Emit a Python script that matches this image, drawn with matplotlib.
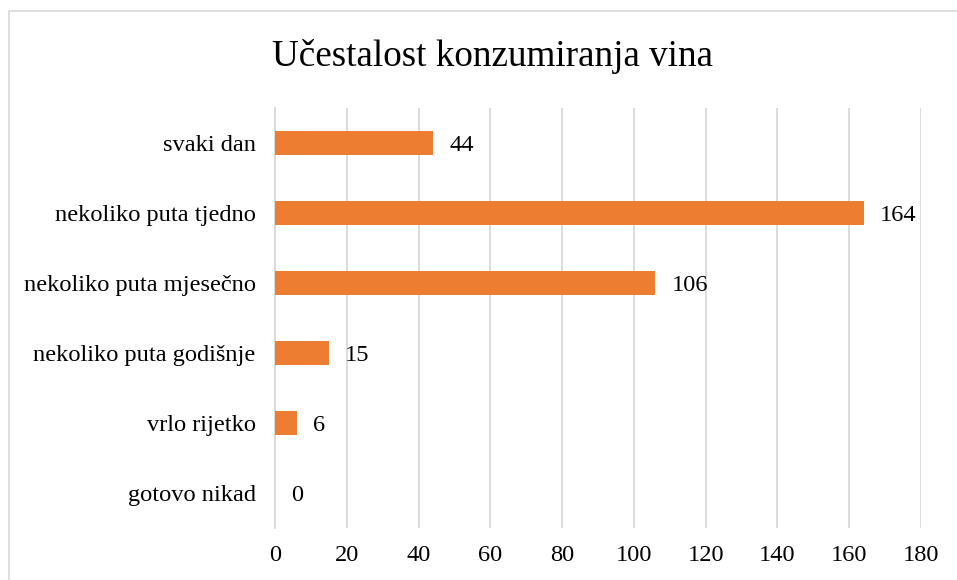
import matplotlib.pyplot as plt
from matplotlib.patches import Rectangle

plt.rcParams['font.family'] = ['Liberation Serif', 'DejaVu Serif']

categories = ['svaki dan', 'nekoliko puta tjedno', 'nekoliko puta mjesečno',
              'nekoliko puta godišnje', 'vrlo rijetko', 'gotovo nikad']
values = [44, 164, 106, 15, 6, 0]
xticks = [0, 20, 40, 60, 80, 100, 120, 140, 160, 180]

W, H = 957, 580
fig = plt.figure(figsize=(W / 100, H / 100), dpi=100)
ax = fig.add_axes([275 / W, 1 - 528 / H, (921 - 275) / W, (528 - 108) / H])

pos = list(range(len(categories)))
ax.barh(pos, values, height=0.345, color='#ED7D31', zorder=3)
for p, v in zip(pos, values):
    ax.text(v + 4.5, p, str(v), va='center_baseline', ha='left', fontsize=17.6)

ax.set_ylim(len(categories) - 0.5, -0.5)
ax.set_yticks(pos)
ax.set_yticklabels(categories, fontsize=17.6, va='center_baseline')
ax.set_xlim(0, 180)
ax.set_xticks(xticks)
ax.set_xticklabels([str(t) for t in xticks], fontsize=17.6)
ax.tick_params(length=0, pad=12)
ax.tick_params(axis='y', pad=14)
ax.grid(axis='x', color='#D9D9D9', linewidth=1.3, zorder=0)
for s in ['top', 'right', 'bottom']:
    ax.spines[s].set_visible(False)
ax.spines['left'].set_color('#D9D9D9')
ax.spines['left'].set_linewidth(1.3)

fig.text(492 / W, 1 - 56 / H, 'Učestalost konzumiranja vina', ha='center', va='center', fontsize=26.7)

# chart area border
fig.patches.append(Rectangle((9 / W, -0.1), 1.2, 1 - 11 / H + 0.1, transform=fig.transFigure,
                             fill=False, edgecolor='#D9D9D9', linewidth=1.2))

fig.savefig('out.png', dpi=100)
